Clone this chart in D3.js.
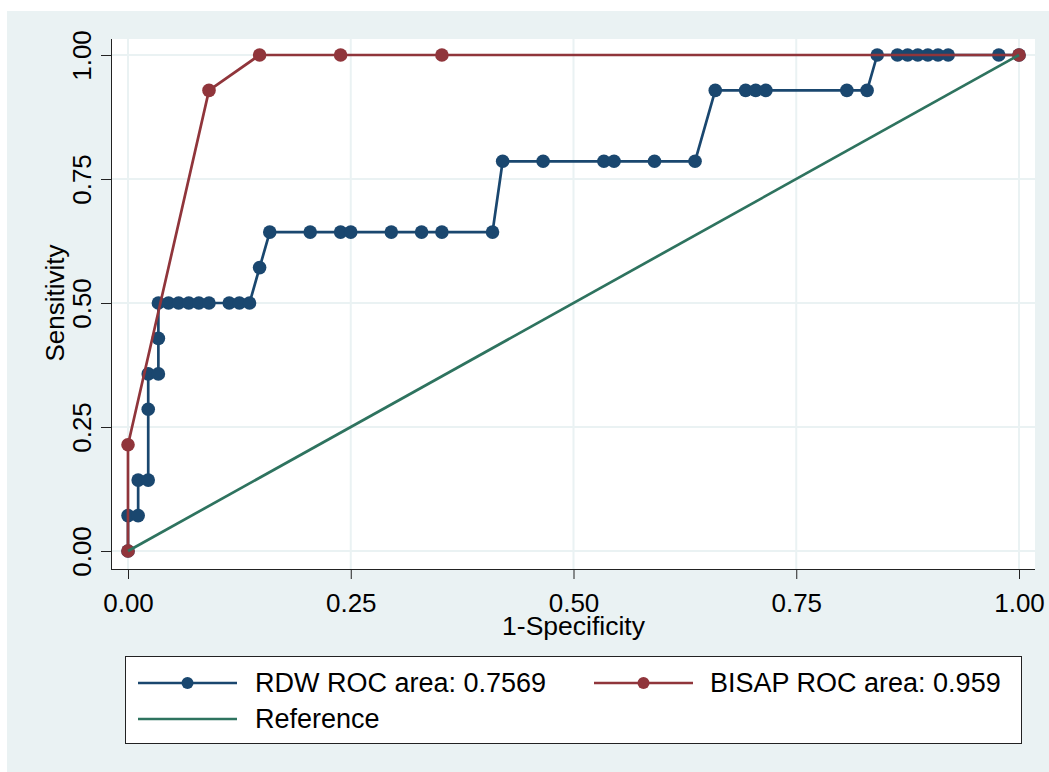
<!DOCTYPE html>
<html>
<head>
<meta charset="utf-8">
<script src="https://cdn.jsdelivr.net/npm/d3@7"></script>
<style>
  body { margin: 0; background: #fff; }
  svg { display: block; font-family: "Liberation Sans", Arial, sans-serif; }
</style>
</head>
<body>
<div id="chart"></div>
<script>
// RDW curve (1-specificity, sensitivity)
var rdwX = [0, 0, 0.0114, 0.0114, 0.0227, 0.0227, 0.0227, 0.0341, 0.0341, 0.0341,
  0.0455, 0.0568, 0.0682, 0.0795, 0.0909, 0.1136, 0.125, 0.1364, 0.1477, 0.1591,
  0.2045, 0.2386, 0.25, 0.2955, 0.3295, 0.3523, 0.4091, 0.4205, 0.4659, 0.5341,
  0.5455, 0.5909, 0.6364, 0.6591, 0.6932, 0.7045, 0.7159, 0.8068, 0.8295, 0.8409,
  0.8636, 0.875, 0.8864, 0.8977, 0.9091, 0.9205, 0.9773, 1];
var rdwY = [0, 0.0714, 0.0714, 0.1429, 0.1429, 0.2857, 0.3571, 0.3571, 0.4286, 0.5,
  0.5, 0.5, 0.5, 0.5, 0.5, 0.5, 0.5, 0.5, 0.5714, 0.6429,
  0.6429, 0.6429, 0.6429, 0.6429, 0.6429, 0.6429, 0.6429, 0.7857, 0.7857, 0.7857,
  0.7857, 0.7857, 0.7857, 0.9286, 0.9286, 0.9286, 0.9286, 0.9286, 0.9286, 1,
  1, 1, 1, 1, 1, 1, 1, 1];

// BISAP curve
var bisapX = [0, 0, 0.0909, 0.1477, 0.2386, 0.3523, 1];
var bisapY = [0, 0.2143, 0.9286, 1, 1, 1, 1];

var refX = [0, 1];
var refY = [0, 1];

var ticks = [0, 0.25, 0.5, 0.75, 1];
var legendLabels = ["RDW ROC area: 0.7569", "BISAP ROC area: 0.959", "Reference"];
var titleText = "Comparison of ROC in Diagnosis";

var W = 1049, H = 772;
var bg = "#eaf2f3";
var navy = "#1a476f", maroon = "#90353b", green = "#2e735f";

var svg = d3.select("#chart").append("svg").attr("width", W).attr("height", H);

svg.append("rect").attr("x", 7).attr("y", 11).attr("width", W - 7).attr("height", H - 11).attr("fill", bg);

// title, cut off at the top: only descenders show
svg.append("text").attr("x", 156).attr("y", -3)
  .attr("font-size", 17).attr("font-weight", "bold").attr("fill", "#000")
  .text(titleText);

var x = d3.scaleLinear().domain([0, 1]).range([128, 1019]);
var y = d3.scaleLinear().domain([0, 1]).range([551, 55]);

var plot = { left: 111, right: 1035, top: 39, bottom: 569 };

svg.append("rect").attr("x", plot.left).attr("y", plot.top)
  .attr("width", plot.right - plot.left).attr("height", plot.bottom - plot.top)
  .attr("fill", "#fff");

// grid
svg.selectAll(".gx").data(ticks).enter().append("line")
  .attr("x1", d => x(d)).attr("x2", d => x(d))
  .attr("y1", plot.top).attr("y2", plot.bottom)
  .attr("stroke", bg).attr("stroke-width", 2);
svg.selectAll(".gy").data(ticks).enter().append("line")
  .attr("y1", d => y(d)).attr("y2", d => y(d))
  .attr("x1", plot.left).attr("x2", plot.right)
  .attr("stroke", bg).attr("stroke-width", 2);

// axes
var xAxis = d3.axisBottom(x).tickValues(ticks).tickFormat(d3.format(".2f")).tickSize(10).tickSizeOuter(0);
var gx = svg.append("g").attr("transform", "translate(0," + plot.bottom + ")").call(xAxis);
gx.select(".domain").attr("d", "M" + plot.left + ",0.5H" + plot.right).attr("stroke", "#222");
gx.selectAll(".tick line").attr("stroke", "#222");
gx.selectAll(".tick text").attr("font-size", 26).attr("font-family", "Liberation Sans, Arial, sans-serif")
  .attr("fill", "#000").attr("dy", null).attr("y", 43);

var yAxis = d3.axisLeft(y).tickValues(ticks).tickFormat(d3.format(".2f")).tickSize(10).tickSizeOuter(0);
var gy = svg.append("g").attr("transform", "translate(" + plot.left + ",0)").call(yAxis);
gy.select(".domain").attr("d", "M0.5," + plot.top + "V" + plot.bottom).attr("stroke", "#222");
gy.selectAll(".tick line").attr("stroke", "#222");
gy.selectAll(".tick text").attr("font-size", 26).attr("font-family", "Liberation Sans, Arial, sans-serif")
  .attr("fill", "#000").attr("x", null).attr("dy", null)
  .attr("text-anchor", "middle")
  .attr("transform", "translate(-20,0) rotate(-90)");

// axis titles
svg.append("text").attr("x", x(0.5)).attr("y", 635).attr("text-anchor", "middle")
  .attr("font-size", 26.5).text("1-Specificity");
svg.append("text").attr("transform", "translate(64," + y(0.5) + ") rotate(-90)")
  .attr("text-anchor", "middle").attr("font-size", 26).text("Sensitivity");

var line = d3.line().x(d => x(d[0])).y(d => y(d[1]));

function drawCurve(xs, ys, color, markers) {
  var pts = d3.zip(xs, ys);
  svg.append("path").datum(pts).attr("d", line)
    .attr("fill", "none").attr("stroke", color).attr("stroke-width", 2.7)
    .attr("stroke-linejoin", "round");
  if (markers) {
    svg.append("g").selectAll("circle").data(pts).enter().append("circle")
      .attr("cx", d => x(d[0])).attr("cy", d => y(d[1])).attr("r", 6.8)
      .attr("fill", color);
  }
}

drawCurve(rdwX, rdwY, navy, true);
drawCurve(bisapX, bisapY, maroon, true);
drawCurve(refX, refY, green, false);

// legend
var lg = svg.append("g");
lg.append("rect").attr("x", 125.5).attr("y", 656.5).attr("width", 896).attr("height", 87)
  .attr("fill", "#fff").attr("stroke", "#222").attr("stroke-width", 1);

var legendItems = [
  { label: legendLabels[0], color: navy, marker: true, kx: 138, ky: 683, tx: 255 },
  { label: legendLabels[1], color: maroon, marker: true, kx: 594, ky: 683, tx: 710 },
  { label: legendLabels[2], color: green, marker: false, kx: 138, ky: 719, tx: 255 }
];
legendItems.forEach(function(d) {
  lg.append("line").attr("x1", d.kx).attr("x2", d.kx + 99).attr("y1", d.ky).attr("y2", d.ky)
    .attr("stroke", d.color).attr("stroke-width", 2.7);
  if (d.marker) {
    lg.append("circle").attr("cx", d.kx + 49.5).attr("cy", d.ky).attr("r", 6).attr("fill", d.color);
  }
  lg.append("text").attr("x", d.tx).attr("y", d.ky + 9).attr("font-size", 27)
    .attr("fill", "#000").text(d.label);
});
</script>
</body>
</html>
